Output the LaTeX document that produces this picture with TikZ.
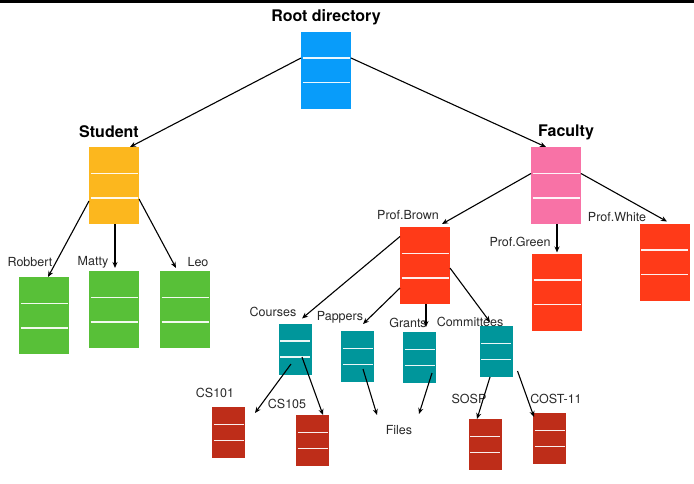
\documentclass[tikz,border=0pt]{standalone}
\usepackage{fontspec}
\setmainfont{TeX Gyre Heros}
\usetikzlibrary{calc,arrows.meta}
\definecolor{dirblue}{RGB}{8,156,250}
\definecolor{dirorange}{RGB}{252,183,30}
\definecolor{dirpink}{RGB}{248,114,166}
\definecolor{dirgreen}{RGB}{88,192,56}
\definecolor{dirred}{RGB}{255,58,24}
\definecolor{dirteal}{RGB}{0,150,155}
\definecolor{dirdark}{RGB}{190,45,25}
\definecolor{labelgray}{RGB}{40,40,40}
\begin{document}
\begin{tikzpicture}[x=1pt, y=-1pt,
  every node/.style={font=\fontsize{12.5}{15}\selectfont, text=labelgray},
  dir/.style={fill=#1, inner sep=0pt, outer sep=0pt, path picture={
    \foreach \f in {0.345,0.66}
      \draw[white!92!#1, line width=1.6pt]
        ($(path picture bounding box.north west)!\f!(path picture bounding box.south west)+(1.5pt,0)$) --
        ($(path picture bounding box.north east)!\f!(path picture bounding box.south east)+(-1.5pt,0)$);}},
  big/.style={minimum width=50pt, minimum height=77pt},
  small/.style={minimum width=33pt, minimum height=51pt},
  head/.style={font=\fontsize{16}{19}\selectfont\bfseries, text=black},
  arr/.style={-{Stealth[length=6pt,width=5pt]}, line width=1.1pt}]
  \useasboundingbox (0,0) rectangle (694,483);
  \fill[black] (0,0) rectangle (694,3);

  \node[dir=dirblue, big] (root) at (326,70) {};
  \node[head] (rootlbl) at (326,17) {Root directory};

  \node[dir=dirorange, big] (student) at (114,185.5) {};
  \node[head] (studentlbl) at (109,132) {Student};
  \node[dir=dirpink, big] (faculty) at (556,185.5) {};
  \node[head] (facultylbl) at (566,132) {Faculty};

  \node[dir=dirgreen, big] (robbert) at (44,315.5) {};
  \node (robbertlbl) at (30,262) {Robbert};
  \node[dir=dirgreen, big] (matty) at (114,309.5) {};
  \node (mattylbl) at (93,262) {Matty};
  \node[dir=dirgreen, big] (leo) at (185,309.5) {};
  \node (leolbl) at (198,262) {Leo};

  \node[dir=dirred, big] (brown) at (425,265.5) {};
  \node (brownlbl) at (408,215) {Prof.Brown};
  \node[dir=dirred, big] (green) at (557,292) {};
  \node (greenlbl) at (520,242) {Prof.Green};
  \node[dir=dirred, big] (white) at (664.5,262) {};
  \node (whitelbl) at (617,217) {Prof.White};

  \node[dir=dirteal, small] (courses) at (295,349) {};
  \node (courseslbl) at (273,312) {Courses};
  \node[dir=dirteal, small] (pappers) at (357.5,356.5) {};
  \node (papperslbl) at (340,317) {Pappers};
  \node[dir=dirteal, small] (grants) at (419.5,357.5) {};
  \node (grantslbl) at (408,323) {Grants};
  \node[dir=dirteal, small] (committees) at (496,351.5) {};
  \node (committeeslbl) at (470,322) {Committees};

  \node[dir=dirdark, small] (cs101) at (228.5,432.5) {};
  \node (cs101lbl) at (215,393) {CS101};
  \node[dir=dirdark, small] (cs105) at (312.5,440.5) {};
  \node (cs105lbl) at (287,404) {CS105};
  \node (files) at (399,430) {Files};
  \node[dir=dirdark, small] (sosp) at (485,444.5) {};
  \node (sosplbl) at (469,399) {SOSP};
  \node[dir=dirdark, small] (cost) at (549.5,438.5) {};
  \node (costlbl) at (556,399) {COST-11};

  \coordinate (tocs101) at (255,413);
  \coordinate (tofilesa) at (377,415);
  \coordinate (tofilesb) at (419,414);

  \draw[arr] ([yshift=12pt]root.west) -- ([xshift=16pt]student.north);
  \draw[arr] ([yshift=12pt]root.east) -- ([xshift=-10pt]faculty.north);

  \draw[arr] ([yshift=-15.5pt]student.west) -- ([xshift=4pt]robbert.north);
  \draw[arr] ([xshift=1pt]student.south) -- ([xshift=1pt,yshift=3pt]matty.north);
  \draw[arr] ([yshift=-13.5pt]student.east) -- ([xshift=-9pt,yshift=3pt]leo.north);

  \draw[arr] ([yshift=12pt]faculty.west) -- ([xshift=17pt,yshift=3pt]brown.north);
  \draw[arr] ([xshift=1pt]faculty.south) -- ([yshift=1pt]green.north);
  \draw[arr] ([yshift=12pt]faculty.east) -- ([xshift=2.5pt,yshift=2pt]white.north);

  \draw[arr] ([yshift=29pt]brown.west) -- ([xshift=7pt,yshift=5pt]courses.north);
  \draw[arr] ([yshift=-22.5pt]brown.west) -- ([xshift=5.5pt,yshift=7pt]pappers.north);
  \draw[arr] ([xshift=1pt]brown.south) -- ([xshift=6.5pt,yshift=5pt]grants.north);
  \draw[arr] ([yshift=-2.5pt]brown.east) -- ([xshift=-6pt,yshift=4pt]committees.north);

  \draw[arr] ([xshift=-4pt,yshift=-15pt]courses.center) -- (tocs101);
  \draw[arr] ([xshift=7pt,yshift=-8pt]courses.center) -- ([xshift=10.5pt]cs105.north);
  \draw[arr] ([xshift=5.5pt,yshift=-12.5pt]pappers.center) -- (tofilesa);
  \draw[arr] ([xshift=12.5pt,yshift=-15.5pt]grants.center) -- (tofilesb);
  \draw[arr] ([xshift=-6pt]committees.south) -- ([xshift=-8pt]sosp.north);
  \draw[arr] ([xshift=5pt,yshift=6pt]committees.south east) -- ([xshift=1pt,yshift=-4pt]cost.north west);
\end{tikzpicture}
\end{document}
